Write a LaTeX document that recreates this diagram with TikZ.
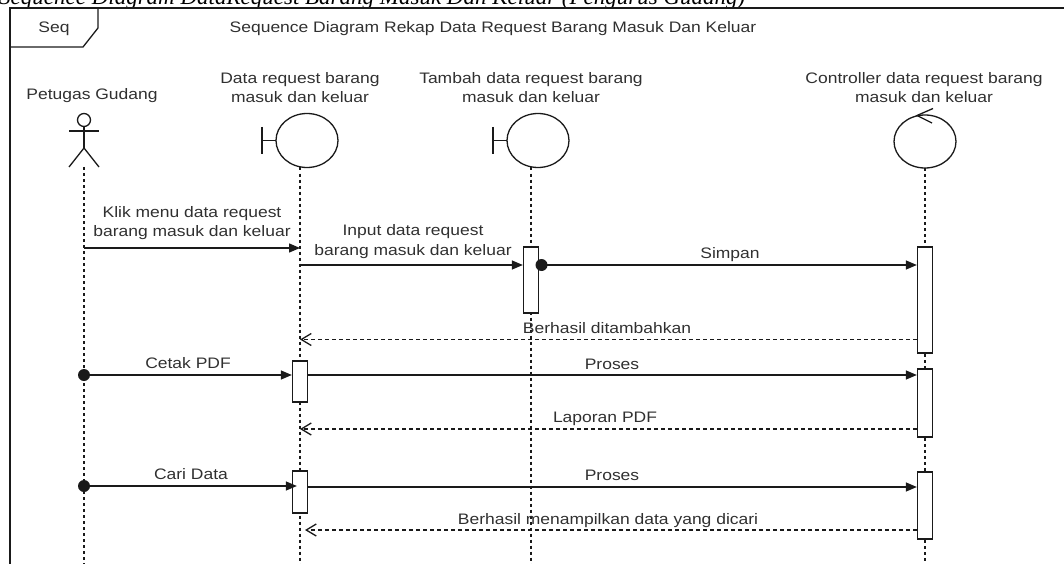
\documentclass[tikz,border=0pt]{standalone}
\usepackage{fontspec}
\setmainfont{Liberation Sans}[FakeStretch=1.15]
\newfontfamily\capfont{Liberation Serif}
\usetikzlibrary{arrows.meta,calc}
\definecolor{ink}{HTML}{1A1A1A}
\definecolor{txt}{HTML}{303030}
\newcommand{\twolines}[2]{\begin{tabular}[t]{@{}c@{}}#1\\#2\end{tabular}}
\begin{document}
\begin{tikzpicture}[x=1pt,y=-1pt,
  every node/.style={text=txt, font=\fontsize{15.2}{19.5}\selectfont, inner sep=0pt},
  frameline/.style={draw=ink, line width=1.8pt},
  outline/.style={draw=ink, line width=1.3pt},
  lifeline/.style={draw=ink, line width=1.3pt, dash pattern=on 3pt off 3pt},
  actbox/.style={rectangle, draw=ink, fill=white, line width=1.3pt, minimum width=15pt, inner sep=0pt},
  msg/.style={draw=ink, line width=1.3pt, -{Triangle[length=11pt,width=9pt]}},
  reply/.style={draw=ink, line width=1.3pt, dash pattern=on 4pt off 3pt, -{Straight Barb[length=10pt,width=12pt]}},
  startdot/.style={circle, fill=ink, minimum size=12pt, inner sep=0pt},
  lbl/.style={anchor=base, align=center},
]
\clip (0,0) rectangle (1064,564);

% caption line above the frame (cut by the page edge)
\node[anchor=base west, text=black, font=\capfont\itshape\fontsize{23}{26}\selectfont] (caption) at (-1,5) {Sequence Diagram DataRequest Barang Masuk Dan Keluar (Pengurus Gudang)};

% frame and its tab
\draw[frameline] (10,570) -- (10,8) -- (1070,8);
\draw[outline] (10,47) -- (83,47) -- (98,28) -- (98,8);
\node[lbl] (seqtag) at (54,33) {Seq};
\node[lbl] (title) at (493,33) {Sequence Diagram Rekap Data Request Barang Masuk Dan Keluar};

% lifeline heads
\coordinate (Atop) at (84,167);
\coordinate (Btop) at (300,167.5);
\coordinate (Ctop) at (531,167.5);
\coordinate (Dtop) at (925,168);

% actor: Petugas Gudang
\node[lbl] (actorname) at (92,100) {Petugas Gudang};
\draw[outline] (84,120) circle [radius=6.5pt];
\draw[outline] (69,131) -- (99,131);
\draw[outline] (84,126.5) -- (84,148);
\draw[outline] (69,167) -- (84,148) -- (99,167);

% boundary: Data request barang masuk dan keluar
\node[lbl] (bname) at (300,83.5) {\twolines{Data request barang}{masuk dan keluar}};
\draw[outline] (307,140.5) ellipse [x radius=31pt, y radius=27pt];
\draw[outline] (262,127) -- (262,154);
\draw[outline] (262,140.5) -- (276,140.5);

% boundary: Tambah data request barang masuk dan keluar
\node[lbl] (cname) at (531,83.5) {\twolines{Tambah data request barang}{masuk dan keluar}};
\draw[outline] (538,140.5) ellipse [x radius=31pt, y radius=27pt];
\draw[outline] (493,127) -- (493,154);
\draw[outline] (493,140.5) -- (507,140.5);

% controller: Controller data request barang masuk dan keluar
\node[lbl] (dname) at (924,83.5) {\twolines{Controller data request barang}{masuk dan keluar}};
\draw[outline] (925,141.5) ellipse [x radius=31pt, y radius=26.5pt];
\draw[outline] (933,108.5) -- (917,115.5) -- (932,123);

% lifelines
\draw[lifeline] (Atop) -- (84,570);
\draw[lifeline] (Btop) -- (300,570);
\draw[lifeline] (Ctop) -- (531,570);
\draw[lifeline] (Dtop) -- (925,570);

% activation bars
\node[actbox, minimum height=66pt] (actC) at (531,280) {};
\node[actbox, minimum height=106pt] (actD1) at (925,300) {};
\node[actbox, minimum height=41pt] (actB1) at (300,381.5) {};
\node[actbox, minimum height=68pt] (actD2) at (925,403) {};
\node[actbox, minimum height=42pt] (actB2) at (300,492) {};
\node[actbox, minimum height=67pt] (actD3) at (925,505.5) {};

% message rows
\coordinate (r1) at (0,248);
\coordinate (r2) at (0,265);
\coordinate (r4) at (0,339.5);
\coordinate (r5) at (0,375);
\coordinate (r7) at (0,429);
\coordinate (r8) at (0,486);
\coordinate (r9) at (0,487);
\coordinate (r10) at (0,530);

% Klik menu
\draw[msg] (Atop |- r1) -- (Btop |- r1);
\node[lbl] (m1) at (192,217) {\twolines{Klik menu data request}{barang masuk dan keluar}};

% Input data
\draw[msg] (Btop |- r2) -- (actC.west |- r2);
\node[lbl] (m2) at (413,235.5) {\twolines{Input data request}{barang masuk dan keluar}};

% Simpan
\node[startdot] (dotS) at (541.5,265) {};
\draw[msg] (dotS.center) -- (actD1.west |- r2);
\node[lbl] (m3) at (730,258.5) {Simpan};

% Berhasil ditambahkan
\draw[reply] (actD1.west |- r4) -- (Btop |- r4);
\node[lbl] (m4) at (607,333) {Berhasil ditambahkan};

% Cetak PDF
\node[startdot] (dotC) at (Atop |- r5) {};
\draw[msg] (dotC.center) -- (actB1.west |- r5);
\node[lbl] (m5) at (188,368) {Cetak PDF};

% Proses
\draw[msg] (actB1.east |- r5) -- (actD2.west |- r5);
\node[lbl] (m6) at (612,369) {Proses};

% Laporan PDF
\draw[reply] (actD2.west |- r7) -- (Btop |- r7);
\node[lbl] (m7) at (605,422) {Laporan PDF};

% Cari Data
\node[startdot] (dotF) at (Atop |- r8) {};
\draw[msg] (dotF.center) -- ($(actB2.west |- r8)+(5,0)$);
\node[lbl] (m8) at (191,479) {Cari Data};

% Proses
\draw[msg] (actB2.east |- r9) -- (actD3.west |- r9);
\node[lbl] (m9) at (612,480) {Proses};

% Berhasil menampilkan data yang dicari
\draw[reply] (actD3.west |- r10) -- ($(Btop |- r10)+(5,0)$);
\node[lbl] (m10) at (608,524) {Berhasil menampilkan data yang dicari};
\end{tikzpicture}
\end{document}
